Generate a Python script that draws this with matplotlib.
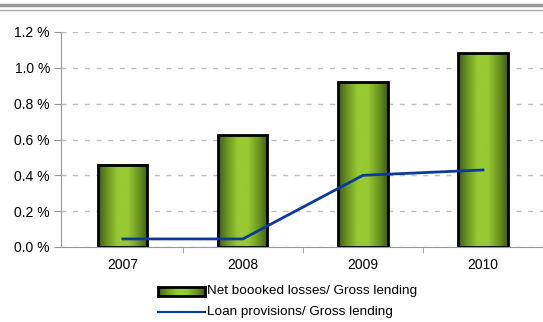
import numpy as np
import matplotlib
matplotlib.use("Agg")
import matplotlib.pyplot as plt
from matplotlib.colors import LinearSegmentedColormap
from matplotlib.lines import Line2D

plt.rcParams['font.family'] = ['Liberation Sans', 'DejaVu Sans']

years = ["2007", "2008", "2009", "2010"]
net_losses = [0.46, 0.625, 0.92, 1.08]      # % of gross lending
loan_provisions = [0.045, 0.045, 0.40, 0.43]  # % of gross lending
y_ticks = [0.0, 0.2, 0.4, 0.6, 0.8, 1.0, 1.2]

bar_cmap = LinearSegmentedColormap.from_list(
    "bar", ["#3f5c18", "#6f9a24", "#98ca33", "#98ca33", "#6f9a24", "#3f5c18"])
grad = np.linspace(0, 1, 256).reshape(1, -1)

fig = plt.figure(figsize=(5.43, 3.22), dpi=100)
ax = fig.add_axes([61 / 543, 1 - 247 / 322, 1 - 61 / 543, 215 / 322])

x = np.arange(len(years))
width = 0.41
for xi, v in zip(x, net_losses):
    ax.imshow(grad, cmap=bar_cmap, aspect="auto", zorder=2,
              extent=[xi - width / 2, xi + width / 2, 0, v])
    ax.bar(xi, v, width, facecolor="none", edgecolor="black", linewidth=2, zorder=3)

ax.plot(x, loan_provisions, color="#0b3a9e", linewidth=2, zorder=4)

ax.set_xlim(-0.515, 3.5)
ax.set_ylim(0, 1.2)
ax.set_yticks(y_ticks)
ax.set_yticklabels([f"{t:.1f} %" for t in y_ticks], fontsize=10)
ax.set_xticks(x)
ax.set_xticklabels(years, fontsize=10)
ax.tick_params(axis="x", length=0, pad=8)
ax.set_xticks([0.5, 1.5, 2.5], minor=True)
ax.tick_params(axis="x", which="minor", length=4, color="#999999")
ax.tick_params(axis="y", length=5, color="#999999", pad=3)

ax.yaxis.grid(True, linestyle=(0, (3.6, 4.8)), color="#c0c0c0", linewidth=1)
ax.set_axisbelow(True)
for s in ["top", "right"]:
    ax.spines[s].set_visible(False)
ax.spines["left"].set_color("#999999")
ax.spines["bottom"].set_color("#999999")

# top border lines
fig.add_artist(Line2D([0, 1], [1 - 5 / 322] * 2, color="#999999", linewidth=2.5))
fig.add_artist(Line2D([0, 1], [1 - 9.5 / 322] * 2, color="#aaaaaa", linewidth=1))

# legend drawn by hand so the swatch keeps the gradient
sw = fig.add_axes([158 / 543, 1 - 296 / 322, 47 / 543, 9 / 322])
sw.imshow(grad, cmap=bar_cmap, aspect="auto")
sw.set_xticks([])
sw.set_yticks([])
for s in sw.spines.values():
    s.set_linewidth(2)
    s.set_color("black")
fig.text(207 / 543, 1 - 291 / 322, "Net boooked losses/ Gross lending",
         fontsize=9.7, va="center", ha="left")
fig.add_artist(Line2D([158 / 543, 205 / 543], [1 - 312 / 322] * 2,
                      color="#0b3a9e", linewidth=1.5))
fig.text(207 / 543, 1 - 312 / 322, "Loan provisions/ Gross lending",
         fontsize=9.7, va="center", ha="left")

fig.savefig("out.png", dpi=100)
